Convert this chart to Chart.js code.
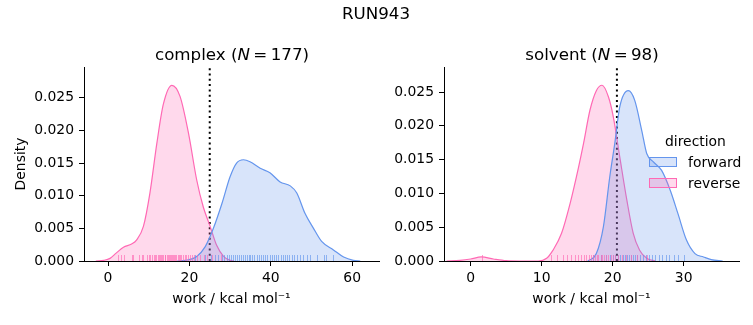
<!DOCTYPE html>
<html>
<head>
<meta charset="utf-8">
<script src="https://cdn.jsdelivr.net/npm/chart.js@4.4.1/dist/chart.umd.min.js"></script>
<style>
  body { margin: 0; background: #fff; }
  #wrap { position: relative; width: 753px; height: 325px; font-family: "DejaVu Sans", sans-serif; color: #000; }
  canvas { position: absolute; top: 0; }
  .txt { position: absolute; white-space: nowrap; line-height: 20px; }
  .title { font-size: 16.7px; text-align: center; transform: translateX(-50%); }
  .leg { font-size: 13.9px; }
  .patch { position: absolute; width: 26px; height: 8px; border: 1px solid; }
</style>
</head>
<body>
<div id="wrap">
  <canvas id="complexChart" width="380" height="325" style="left:0"></canvas>
  <canvas id="solventChart" width="373" height="325" style="left:380px"></canvas>
  <div class="txt title" style="left:376px; top:3px">RUN943</div>
  <div class="txt title" style="left:232px; top:44px">complex (<i>N</i>&#8201;=&#8201;177)</div>
  <div class="txt title" style="left:592px; top:44px">solvent (<i>N</i>&#8201;=&#8201;98)</div>
  <div class="txt leg" style="left:665px; top:131px">direction</div>
  <div class="patch" style="left:649px; top:157px; background:rgba(100,149,237,0.25); border-color:#6495ED"></div>
  <div class="txt leg" style="left:688px; top:152px">forward</div>
  <div class="patch" style="left:649px; top:178px; background:rgba(255,105,180,0.25); border-color:#FF69B4"></div>
  <div class="txt leg" style="left:688px; top:173px">reverse</div>
</div>
<script>
// KDE curves (work in kcal/mol, density)
const complexRevX = [-3, -1, 0.5, 2, 3.8, 5.8, 7, 8.7, 10.3, 12, 13.6, 15.7, 17.7, 19.8, 21.8, 23.4, 25.1, 26.7, 28.4, 30, 31];
const complexRevY = [0, 0.0001, 0.0004, 0.0012, 0.0021, 0.0026, 0.0032, 0.0053, 0.0104, 0.018, 0.024, 0.0269, 0.0252, 0.0195, 0.0124, 0.0083, 0.0053, 0.0024, 0.0007, 0.0001, 0];
const complexFwdX = [17, 19, 21.8, 23.9, 25.9, 28, 30, 31.6, 33.3, 34.9, 37.4, 39.8, 42.3, 44.8, 46.4, 48.4, 50.5, 52.5, 55.4, 57.9, 60.3, 62];
const complexFwdY = [0, 0.0001, 0.0007, 0.0022, 0.005, 0.0088, 0.0129, 0.015, 0.0155, 0.0152, 0.0142, 0.0135, 0.0121, 0.0115, 0.0104, 0.0073, 0.005, 0.003, 0.0017, 0.0006, 0.0001, 0];
const solventRevX = [-3.4, -1.5, 0, 1.5, 3.2, 5, 7, 9.5, 10.7, 11.6, 12.8, 14, 15.2, 15.9, 16.8, 17.7, 18.5, 19.4, 20.1, 21, 22, 22.9, 23.8, 24.8, 26];
const solventRevY = [0, 0.0001, 0.0003, 0.0006, 0.0003, 0.00005, 0, 0, 0.0004, 0.0016, 0.0041, 0.0085, 0.0139, 0.0174, 0.0223, 0.0252, 0.026, 0.0243, 0.0213, 0.0154, 0.009, 0.0041, 0.0016, 0.0004, 0];
const solventFwdX = [16.5, 17.7, 18.7, 19.6, 20.3, 21, 22.2, 23.1, 24.1, 24.8, 25.7, 26.9, 28.1, 29.2, 30.4, 31.6, 32.8, 33.9, 35.5];
const solventFwdY = [0, 0.0011, 0.0051, 0.0125, 0.0174, 0.0228, 0.0252, 0.0238, 0.0193, 0.0159, 0.0147, 0.0134, 0.0105, 0.007, 0.0031, 0.0011, 0.0006, 0.0002, 0];

// rug samples (estimated from the tick marks along the x axis)
const complexRevRug = [2.5, 3.1, 3.9, 5.8, 6.2, 7.7, 8.3, 8.7, 9.5, 10.0, 10.4, 10.8, 11.2, 11.5, 11.9, 12.2, 12.5, 12.8, 13.0, 13.3, 13.6, 13.9, 14.1, 14.4, 14.7, 15.0, 15.2, 15.5, 15.7, 16.0, 16.2, 16.5, 16.8, 17.1, 17.4, 17.7, 18.0, 18.4, 18.8, 19.2, 19.6, 20.1, 20.6, 21.2, 21.9, 22.6, 23.5, 24.4, 25.6, 27.8];
const complexFwdRug = [21.4, 23.8, 25.2, 26.3, 27.1, 27.9, 28.6, 29.2, 29.8, 30.3, 30.8, 31.3, 31.8, 32.3, 32.7, 33.2, 33.6, 34.1, 34.6, 35.0, 35.5, 36.0, 36.5, 37.0, 37.5, 38.0, 38.6, 39.1, 39.7, 40.2, 40.8, 41.3, 41.9, 42.4, 43.0, 43.5, 44.1, 44.6, 45.2, 45.8, 46.5, 47.2, 48.0, 48.9, 49.6, 51.3, 53.0, 53.6, 55.3];
const solventRevRug = [1.6, 11.3, 12.2, 13.0, 13.6, 14.2, 14.7, 15.1, 15.5, 15.9, 16.3, 16.6, 16.9, 17.2, 17.5, 17.8, 18.0, 18.3, 18.5, 18.8, 19.1, 19.4, 19.7, 20.0, 20.4, 20.8, 21.3, 21.9, 22.6, 23.4, 24.8];
const solventFwdRug = [17.3, 18.4, 19.1, 19.6, 20.0, 20.4, 20.8, 21.1, 21.4, 21.7, 22.0, 22.3, 22.6, 22.9, 23.2, 23.5, 23.9, 24.3, 24.7, 25.1, 25.6, 26.0, 26.5, 27.0, 27.5, 28.0, 28.6, 29.2, 30.0];

// dotted marker lines
const complexCut = 25.0;
const solventCut = 20.6;

// ticks
const complexXTicks = [0, 20, 40, 60];
const solventXTicks = [0, 10, 20, 30];
const yTicks = [0, 0.005, 0.010, 0.015, 0.020, 0.025];

const BLUE = '#6495ED';
const PINK = '#FF69B4';
const FONT = "'DejaVu Sans', sans-serif";

function toPoints(xs, ys) {
    return xs.map((x, i) => ({ x: x, y: ys[i] }));
}

// short ticks along the bottom of the axes
const rugPlugin = {
    id: 'rug',
    afterDatasetsDraw(chart, args, opts) {
        const ctx = chart.ctx;
        const xScale = chart.scales.x;
        const bottom = chart.chartArea.bottom;
        ctx.save();
        ctx.lineWidth = 1;
        opts.sets.forEach(set => {
            ctx.strokeStyle = set.color;
            set.values.forEach(v => {
                const px = Math.round(xScale.getPixelForValue(v)) + 0.5;
                ctx.beginPath();
                ctx.moveTo(px, bottom);
                ctx.lineTo(px, bottom - 6);
                ctx.stroke();
            });
        });
        ctx.restore();
    }
};

function kdeSet(label, pts, color, fillColor) {
    return {
        label: label,
        data: pts,
        borderColor: color,
        backgroundColor: fillColor,
        borderWidth: 1.2,
        pointRadius: 0,
        fill: 'origin',
        cubicInterpolationMode: 'monotone'
    };
}

function makeChart(id, opts) {
    return new Chart(document.getElementById(id), {
        type: 'line',
        data: {
            datasets: [
                kdeSet('forward', opts.fwd, BLUE, 'rgba(100,149,237,0.25)'),
                kdeSet('reverse', opts.rev, PINK, 'rgba(255,105,180,0.25)'),
                {
                    label: 'cut',
                    data: [{ x: opts.cut, y: 0 }, { x: opts.cut, y: opts.yMax }],
                    borderColor: '#000',
                    borderWidth: 2,
                    borderDash: [2, 3.3],
                    pointRadius: 0,
                    fill: false
                }
            ]
        },
        options: {
            responsive: false,
            animation: false,
            devicePixelRatio: 1,
            layout: { padding: { top: 67, right: opts.padRight, left: 0, bottom: 0 } },
            plugins: {
                legend: { display: false },
                tooltip: { enabled: false },
                rug: { sets: opts.rugs }
            },
            scales: {
                x: {
                    type: 'linear',
                    min: opts.xMin,
                    max: opts.xMax,
                    afterBuildTicks: s => { s.ticks = opts.xTicks.map(v => ({ value: v })); },
                    afterFit: s => { s.height = 64; },
                    grid: { drawOnChartArea: false, tickLength: 5, color: '#000' },
                    border: { display: true, color: '#000', width: 1 },
                    ticks: { color: '#000', padding: 4, maxRotation: 0, font: { family: FONT, size: 13.9 } },
                    title: {
                        display: true,
                        text: 'work / kcal mol\u207B\u00B9',
                        color: '#000',
                        padding: { top: 0, bottom: 17 },
                        font: { family: FONT, size: 13.9 }
                    }
                },
                y: {
                    min: 0,
                    max: opts.yMax,
                    afterBuildTicks: s => { s.ticks = yTicks.map(v => ({ value: v })); },
                    afterFit: s => { s.width = opts.yWidth; },
                    grid: { drawOnChartArea: false, tickLength: 5, color: '#000' },
                    border: { display: true, color: '#000', width: 1 },
                    ticks: {
                        color: '#000',
                        padding: 5,
                        font: { family: FONT, size: 13.9 },
                        callback: v => v.toFixed(3)
                    },
                    title: {
                        display: opts.yTitle,
                        text: 'Density',
                        color: '#000',
                        padding: { top: 13, bottom: 0 },
                        font: { family: FONT, size: 13.9 }
                    }
                }
            }
        },
        plugins: [rugPlugin]
    });
}

makeChart('complexChart', {
    fwd: toPoints(complexFwdX, complexFwdY),
    rev: toPoints(complexRevX, complexRevY),
    cut: complexCut,
    xMin: -5.9, xMax: 66.6, yMax: 0.0297,
    xTicks: complexXTicks,
    yWidth: 84, padRight: 1, yTitle: true,
    rugs: [
        { values: complexFwdRug, color: 'rgba(100,149,237,0.65)' },
        { values: complexRevRug, color: 'rgba(255,105,180,0.65)' }
    ]
});

makeChart('solventChart', {
    fwd: toPoints(solventFwdX, solventFwdY),
    rev: toPoints(solventRevX, solventRevY),
    cut: solventCut,
    xMin: -3.76, xMax: 37.8, yMax: 0.0287,
    xTicks: solventXTicks,
    yWidth: 64, padRight: 14, yTitle: false,
    rugs: [
        { values: solventFwdRug, color: 'rgba(100,149,237,0.65)' },
        { values: solventRevRug, color: 'rgba(255,105,180,0.65)' }
    ]
});
</script>
</body>
</html>
